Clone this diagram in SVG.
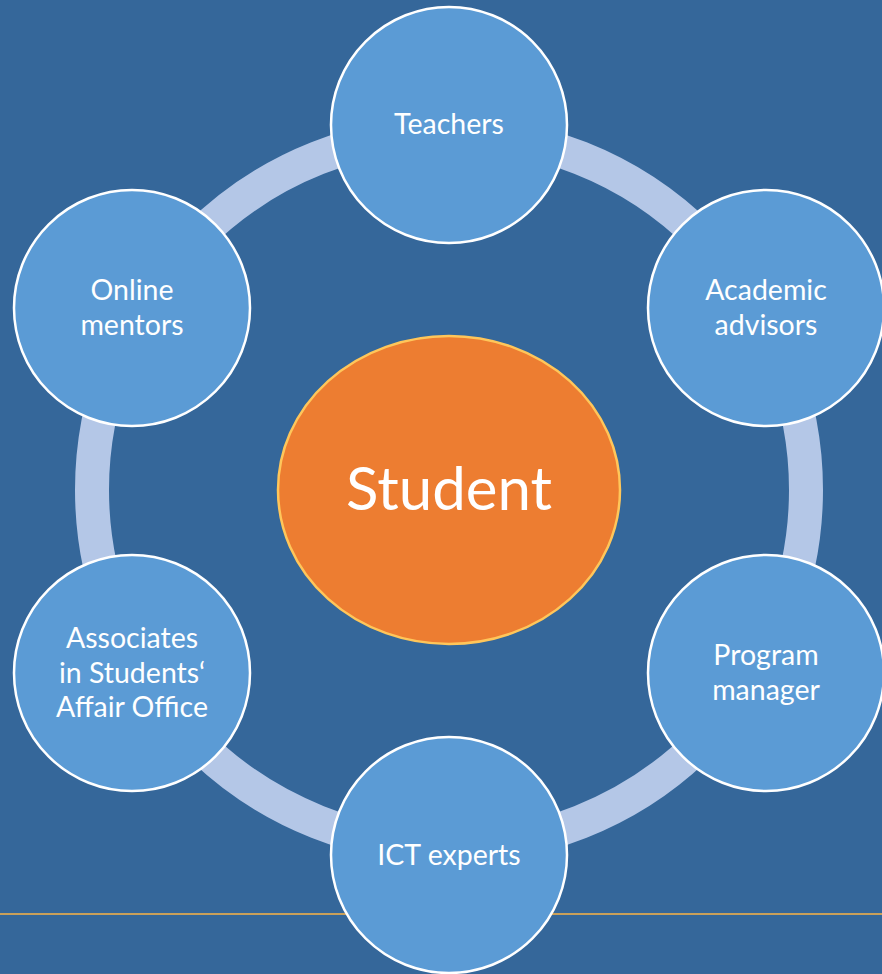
<svg xmlns="http://www.w3.org/2000/svg" width="882" height="974" viewBox="0 0 882 974">
  <style>
    .bg { fill: #35679a; }
    .ring { fill: none; stroke: #b4c7e7; stroke-width: 34; }
    .rule { stroke: #c9a05a; stroke-width: 2; }
    .node circle { fill: #5b9bd5; stroke: #ffffff; stroke-width: 2.5; }
    .center ellipse { fill: #ed7d31; stroke: #ffc65a; stroke-width: 2.5; }
    text { font-family: Lato, "Open Sans", "Liberation Sans", sans-serif; fill: #ffffff; text-anchor: middle; }
    .lbl { font-size: 28.5px; }
    .big { font-size: 60px; }
  </style>

  <rect class="bg" x="0" y="0" width="882" height="974"/>

  <!-- footer rule -->
  <line class="rule" x1="0" y1="914" x2="882" y2="914"/>

  <!-- connecting ring -->
  <g id="connectors">
    <circle class="ring" cx="449" cy="490" r="357"/>
  </g>

  <g id="student" class="center">
    <ellipse cx="449" cy="490" rx="171" ry="154"/>
    <text class="big" x="449" y="510">Student</text>
  </g>

  <g id="teachers" class="node">
    <circle cx="449" cy="125" r="118"/>
    <text class="lbl" x="449" y="134">Teachers</text>
  </g>

  <g id="academic-advisors" class="node">
    <circle cx="766" cy="308" r="118"/>
    <text class="lbl" x="766" y="300">Academic</text>
    <text class="lbl" x="766" y="335">advisors</text>
  </g>

  <g id="program-manager" class="node">
    <circle cx="766" cy="673" r="118"/>
    <text class="lbl" x="766" y="665">Program</text>
    <text class="lbl" x="766" y="700">manager</text>
  </g>

  <g id="ict-experts" class="node">
    <circle cx="449" cy="855" r="118"/>
    <text class="lbl" x="449" y="865">ICT experts</text>
  </g>

  <g id="associates" class="node">
    <circle cx="132" cy="673" r="118"/>
    <text class="lbl" x="132" y="648">Associates</text>
    <text class="lbl" x="132" y="683">in Students‘</text>
    <text class="lbl" x="132" y="717">Affair Office</text>
  </g>

  <g id="online-mentors" class="node">
    <circle cx="132" cy="308" r="118"/>
    <text class="lbl" x="132" y="300">Online</text>
    <text class="lbl" x="132" y="335">mentors</text>
  </g>
</svg>
